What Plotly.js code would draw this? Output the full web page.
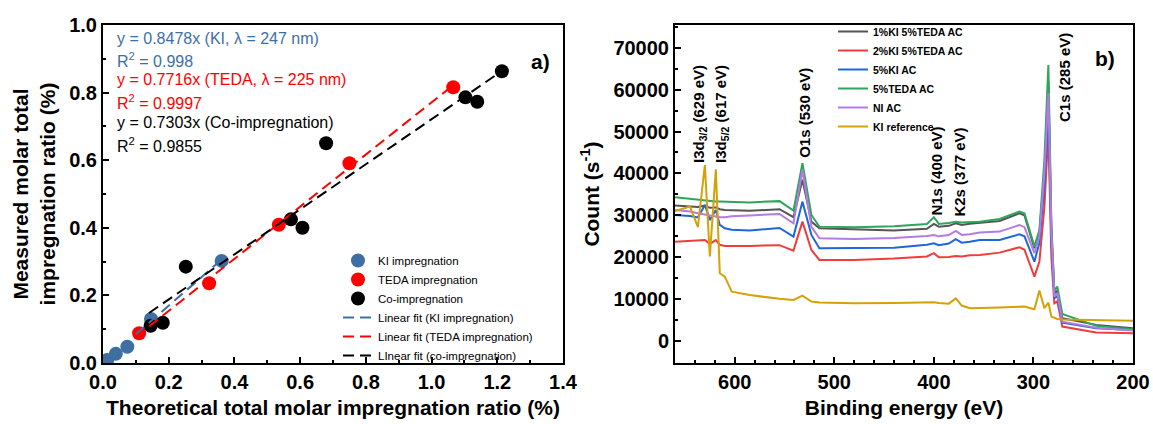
<!DOCTYPE html>
<html>
<head>
<meta charset="utf-8">
<script src="https://cdn.plot.ly/plotly-3.0.1.min.js"></script>
<style>html,body{margin:0;padding:0;background:#fff;}#chart{width:1153px;height:424px;}</style>
</head>
<body>
<div id="chart"></div>
<script>
// ---------- Panel a) data ----------
const kiTheo   = [0.013, 0.039, 0.074, 0.146, 0.361];
const kiMeas   = [0.009, 0.027, 0.048, 0.130, 0.302];
const tedaTheo = [0.110, 0.323, 0.535, 0.750, 1.066];
const tedaMeas = [0.088, 0.236, 0.409, 0.591, 0.816];
const coTheo   = [0.145, 0.182, 0.252, 0.572, 0.607, 0.679, 1.103, 1.139, 1.214];
const coMeas   = [0.110, 0.119, 0.285, 0.425, 0.400, 0.650, 0.786, 0.773, 0.863];
const fitKIx   = [0.10, 0.36];   const fitKIy   = [0.085, 0.305];
const fitTEDAx = [0.10, 1.066];  const fitTEDAy = [0.077, 0.822];
const fitCOx   = [0.14, 1.22];   const fitCOy   = [0.148, 0.868];
const equations = [
  'y = 0.8478x (KI, λ = 247 nm)', 'R<sup>2</sup> = 0.998',
  'y = 0.7716x (TEDA, λ = 225 nm)', 'R<sup>2</sup> = 0.9997',
  'y = 0.7303x (Co-impregnation)', 'R<sup>2</sup> = 0.9855'
];

// ---------- Panel b) data (binding energy, eV) ----------
const energy = [660, 645, 637, 630, 625, 619, 615, 610, 603, 585, 555, 541, 532, 523, 515, 480, 440, 407, 400, 395, 385, 378, 372, 364, 354, 334, 314, 309, 299, 294, 289, 285, 282, 279, 276, 271, 237, 200];
const ki1teda5 = [32330, 32200, 32000, 32330, 31800, 31900, 31470, 31300, 31200, 31100, 31470, 29560, 38500, 28510, 26940, 26700, 26370, 26800, 27960, 27300, 27500, 28130, 27700, 28000, 28270, 28680, 30510, 30000, 22170, 26000, 40000, 62000, 27000, 11440, 12000, 5480, 3890, 3100];
const ki2teda5 = [23740, 23900, 23900, 24150, 23200, 24100, 23000, 22720, 22720, 22720, 22900, 21600, 28510, 21760, 19380, 19380, 19700, 20200, 20980, 20020, 20100, 20330, 20200, 20500, 20570, 21120, 22410, 21800, 15400, 19000, 32000, 50000, 20000, 9060, 9500, 3480, 2050, 1910];
const ki5      = [30100, 29870, 29500, 32490, 28920, 31300, 27720, 26940, 26600, 26400, 27000, 24940, 33280, 25340, 22170, 22170, 22300, 23000, 23360, 22900, 23300, 24310, 23500, 23700, 24150, 24150, 25500, 25000, 18970, 23500, 37000, 55000, 24000, 10250, 10800, 4430, 3100, 2690];
const teda5    = [34330, 33900, 33700, 33500, 33400, 33300, 33300, 33250, 33250, 33100, 33400, 31130, 42430, 30100, 27320, 27180, 27400, 27960, 29560, 27960, 28200, 28510, 28300, 28400, 28510, 29150, 30900, 30500, 22550, 26500, 43200, 65870, 28000, 12000, 13020, 6500, 3650, 2850];
const niAC     = [31300, 30900, 30500, 30200, 30100, 29700, 29560, 29560, 29800, 30000, 30350, 28130, 40830, 27320, 24550, 24390, 24600, 25100, 25340, 25000, 25300, 26290, 25340, 25500, 25890, 26130, 27720, 27200, 20980, 25000, 40000, 59120, 26000, 10630, 11440, 4670, 3200, 2530];
const kiRef    = [31060, 32100, 27200, 42000, 20200, 41000, 16200, 15400, 11800, 11000, 10100, 9850, 10870, 9440, 9200, 9060, 9100, 9200, 9300, 9100, 8950, 10200, 8500, 7870, 7870, 8030, 8200, 8250, 7600, 12070, 7870, 9200, 5870, 5500, 5300, 5200, 5000, 4850];
const seriesNames = ['1%KI 5%TEDA AC', '2%KI 5%TEDA AC', '5%KI AC', '5%TEDA AC', 'NI AC', 'KI reference'];
const peakLabels = ['I3d<sub>3/2</sub> (629 eV)', 'I3d<sub>5/2</sub> (617 eV)', 'O1s (530 eV)', 'N1s (400 eV)', 'K2s (377 eV)', 'C1s (285 eV)'];

// ---------- styling ----------
const FONT = 'Liberation Sans, Arial, sans-serif';
const BLUE = '#3d6fa4', RED = '#ff0000', BLACK = '#000000';
const specColors = ['#555555', '#f03c3c', '#1f66dc', '#2fa55c', '#b47ae6', '#d4a106'];

const traces = [];
traces.push({x: kiTheo, y: kiMeas, type: 'scatter', mode: 'markers', name: 'KI impregnation',
  marker: {color: BLUE, size: 14}, xaxis: 'x', yaxis: 'y', legend: 'legend'});
traces.push({x: tedaTheo, y: tedaMeas, type: 'scatter', mode: 'markers', name: 'TEDA impregnation',
  marker: {color: RED, size: 14}, xaxis: 'x', yaxis: 'y', legend: 'legend'});
traces.push({x: coTheo, y: coMeas, type: 'scatter', mode: 'markers', name: 'Co-impregnation',
  marker: {color: BLACK, size: 14}, xaxis: 'x', yaxis: 'y', legend: 'legend'});
const dash = '11px,6px';
traces.push({x: fitKIx, y: fitKIy, type: 'scatter', mode: 'lines', name: 'Linear fit (KI impregnation)',
  line: {color: BLUE, width: 2, dash: dash}, xaxis: 'x', yaxis: 'y', legend: 'legend'});
traces.push({x: fitTEDAx, y: fitTEDAy, type: 'scatter', mode: 'lines', name: 'Linear fit (TEDA impregnation)',
  line: {color: RED, width: 2, dash: dash}, xaxis: 'x', yaxis: 'y', legend: 'legend'});
traces.push({x: fitCOx, y: fitCOy, type: 'scatter', mode: 'lines', name: 'LInear fit (co-impregnation)',
  line: {color: BLACK, width: 2, dash: dash}, xaxis: 'x', yaxis: 'y', legend: 'legend'});

const specData = [ki1teda5, ki2teda5, ki5, teda5, niAC, kiRef];
specData.forEach((vals, i) => {
  traces.push({x: energy, y: vals, type: 'scatter', mode: 'lines', name: seriesNames[i],
    line: {color: specColors[i], width: 2}, xaxis: 'x2', yaxis: 'y2', legend: 'legend2'});
});

const tickFont = {family: FONT, size: 20, weight: 'bold', color: '#000'};
const titleFont = {family: FONT, size: 21, weight: 'bold', color: '#000'};
const axisBase = {showline: true, linewidth: 2, linecolor: '#000', mirror: true, showgrid: false, zeroline: false,
  ticks: 'inside', ticklen: 6, tickwidth: 2, tickcolor: '#000', tickfont: tickFont};

const yTop = 1 - 25/424, yBot = 1 - 363/424;

const annotations = [];
const eqColors = [BLUE, BLUE, RED, RED, BLACK, BLACK];
const eqY = [0.9615, 0.8964, 0.8373, 0.7722, 0.713, 0.645];
equations.forEach((t, i) => {
  annotations.push({text: t, xref: 'x domain', yref: 'y domain', x: 0.026, y: eqY[i], xanchor: 'left', yanchor: 'middle',
    showarrow: false, font: {family: FONT, size: 16, color: eqColors[i]}});
});
annotations.push({text: 'a)', xref: 'x domain', yref: 'y domain', x: 0.976, y: 0.932, showarrow: false,
  font: {family: FONT, size: 21, weight: 'bold', color: '#000'}});
annotations.push({text: 'b)', xref: 'x2 domain', yref: 'y2 domain', x: 0.965, y: 0.941, showarrow: false,
  font: {family: FONT, size: 21, weight: 'bold', color: '#000'}});
const peakX = [634.9, 612.9, 529.6, 397.2, 374.1, 268.8];
const peakY = [54180, 54180, 54420, 40600, 40360, 62890];
peakLabels.forEach((t, i) => {
  annotations.push({text: t, xref: 'x2', yref: 'y2', x: peakX[i], y: peakY[i], textangle: -90, showarrow: false,
    xanchor: 'center', yanchor: 'middle', font: {family: FONT, size: 15, weight: 'bold', color: '#000'}});
});

const layout = {
  width: 1153, height: 424,
  margin: {l: 0, r: 0, t: 0, b: 0},
  paper_bgcolor: '#fff', plot_bgcolor: '#fff',
  font: {family: FONT, color: '#000'},
  xaxis: Object.assign({}, axisBase, {domain: [103/1153, 563/1153], range: [0, 1.4], dtick: 0.2, tickformat: '.1f',
    minor: {dtick: 0.1, ticks: 'inside', ticklen: 3, tickwidth: 2, tickcolor: '#000'},
    title: {text: 'Theoretical total molar impregnation ratio (%)', font: titleFont, standoff: 8}, anchor: 'y'}),
  yaxis: Object.assign({}, axisBase, {domain: [yBot, yTop], range: [0, 1.0], dtick: 0.2, tickformat: '.1f',
    minor: {dtick: 0.1, ticks: 'inside', ticklen: 3, tickwidth: 2, tickcolor: '#000'},
    title: {text: 'Measured molar total<br>impregnation ratio (%)', font: titleFont, standoff: 8}, anchor: 'x'}),
  xaxis2: Object.assign({}, axisBase, {domain: [675/1153, 1133/1153], range: [660, 200], dtick: 100,
    minor: {dtick: 20, ticks: 'inside', ticklen: 3, tickwidth: 2, tickcolor: '#000'},
    title: {text: 'Binding energy (eV)', font: titleFont, standoff: 8}, anchor: 'y2'}),
  yaxis2: Object.assign({}, axisBase, {domain: [yBot, yTop], range: [-5200, 75400], dtick: 10000, tickformat: 'd',
    minor: {dtick: 5000, ticks: 'inside', ticklen: 3, tickwidth: 2, tickcolor: '#000'},
    title: {text: 'Count (s<sup>-1</sup>)', font: titleFont, standoff: 8}, anchor: 'x2'}),
  legend: {x: 338/1153, y: 1 - 246/424, xanchor: 'left', yanchor: 'top', bgcolor: 'rgba(0,0,0,0)',
    font: {family: FONT, size: 11.5, color: '#000'}, traceorder: 'normal'},
  legend2: {x: 833/1153, y: 1 - 17/424, xanchor: 'left', yanchor: 'top', bgcolor: 'rgba(0,0,0,0)',
    font: {family: FONT, size: 10.5, weight: 'bold', color: '#000'}, traceorder: 'normal'},
  showlegend: true,
  annotations: annotations
};

Plotly.newPlot('chart', traces, layout, {displayModeBar: false, staticPlot: true});
</script>
</body>
</html>
